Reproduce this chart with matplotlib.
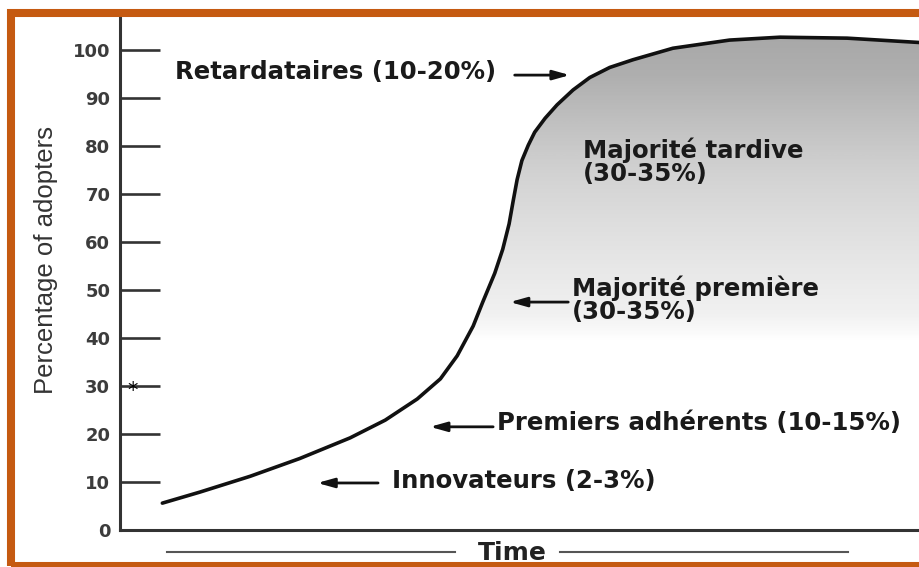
import numpy as np
import matplotlib.pyplot as plt
from matplotlib.colors import LinearSegmentedColormap
from matplotlib.patches import Rectangle
from matplotlib.lines import Line2D

# Diffusion curve (time is arbitrary, 0-100)
time_pts = [5.3, 10.0, 16.3, 22.5, 28.8, 33.2, 37.2, 40.1, 42.2, 44.2, 45.4, 46.9,
            47.9, 48.7, 49.2, 49.7, 50.3, 51.1, 51.9, 53.2, 54.7, 56.7, 58.8,
            61.3, 64.2, 69.2, 76.3, 82.6, 91.0, 100.0]
adopters = [5.6, 7.9, 11.2, 14.9, 19.2, 22.9, 27.3, 31.5, 36.3, 42.5, 47.5, 53.5,
            58.5, 63.8, 68.5, 73.0, 77.0, 80.2, 82.9, 85.8, 88.6, 91.7, 94.3,
            96.4, 98.0, 100.4, 102.1, 102.7, 102.5, 101.6]

y_ticks = [0, 10, 20, 30, 40, 50, 60, 70, 80, 90, 100]

# Category labels and where they sit (text pos, arrow tail, arrow head)
groups = ["Retardataires (10-20%)", "Majorité tardive\n(30-35%)",
          "Majorité première\n(30-35%)", "Premiers adhérents (10-15%)",
          "Innovateurs (2-3%)"]
label_pos = [(6.9, 95.4), (57.9, 76.7), (56.6, 48.0), (47.2, 22.3), (34.0, 10.2)]
arrow_tail = [(49.4, 94.8), None, (56.1, 47.5), (46.7, 21.5), (32.3, 9.8)]
arrow_head = [(56.3, 94.8), None, (48.8, 47.5), (38.8, 21.5), (24.7, 9.8)]

plt.rcParams['font.family'] = ['DejaVu Sans']

fig = plt.figure(figsize=(9.19, 5.67), dpi=100)
ax = fig.add_axes([120 / 919, 37 / 567, 799 / 919, 512 / 567])
ax.set_xlim(0, 100)
ax.set_ylim(0, 106.7)

# grey shading under the curve, fading downwards
shade = LinearSegmentedColormap.from_list("shade", [
    (0.0, "#ffffff"), (0.37, "#ffffff"), (0.42, "#f1f1f1"), (0.52, "#e7e7e7"),
    (0.61, "#dddddd"), (0.70, "#d2d2d2"), (0.80, "#c0c0c0"), (0.89, "#afafaf"),
    (1.0, "#a5a5a5")])
grad = np.linspace(0, 1, 400).reshape(-1, 1)
im = ax.imshow(grad, cmap=shade, aspect='auto', origin='lower',
               extent=[0, 100, 0, 106.7], zorder=1)
poly = ax.fill_between(time_pts, adopters, 0, color='none', zorder=1)
im.set_clip_path(poly.get_paths()[0], transform=ax.transData)

ax.plot(time_pts, adopters, color='#111111', lw=2.6, zorder=3,
        solid_capstyle='round', solid_joinstyle='round')

# axes look
for s in ['top', 'right']:
    ax.spines[s].set_visible(False)
for s in ['left', 'bottom']:
    ax.spines[s].set_linewidth(2.2)
    ax.spines[s].set_color('#333333')
ax.set_xticks([])
ax.set_yticks(y_ticks)
ax.tick_params(axis='y', direction='in', length=29, width=1.9, color='#333333',
               pad=7, labelsize=13, labelcolor='#3c3c3c')
for t in ax.get_yticklabels():
    t.set_fontweight('bold')

# category labels + arrows
for name, (tx, ty), tail, head in zip(groups, label_pos, arrow_tail, arrow_head):
    ax.text(tx, ty, name, fontsize=17.6, fontweight='bold', color='#1a1a1a',
            ha='left', va='center', linespacing=0.92, zorder=4)
    if tail is not None:
        ax.annotate("", xy=head, xytext=tail, zorder=4,
                    arrowprops=dict(arrowstyle='-|>,head_length=1.0,head_width=0.28',
                                    color='#111111', lw=2, shrinkA=0, shrinkB=0))

ax.text(1.6, 29.0, "*", fontsize=15, color='black', ha='center', va='center')

# y label and time label
fig.text(46 / 919, 1 - 260 / 567, "Percentage of adopters", rotation=90,
         ha='center', va='center', fontsize=18.5, color='#333333',
         family='Liberation Sans')
fig.text(512 / 919, 1 - 553 / 567, "Time", ha='center', va='center',
         fontsize=18, fontweight='bold', color='#222222')
yl = 1 - 552 / 567
fig.add_artist(Line2D([167 / 919, 455 / 919], [yl, yl], color='#555555', lw=1.5))
fig.add_artist(Line2D([560 / 919, 848 / 919], [yl, yl], color='#555555', lw=1.5))

# orange frame
fig.add_artist(Rectangle((11 / 919, 1 - 566 / 567), 920 / 919, 553 / 567,
                         fill=False, edgecolor='#C55A11', lw=5.8,
                         transform=fig.transFigure, zorder=10))

fig.savefig("out.png", dpi=100)
